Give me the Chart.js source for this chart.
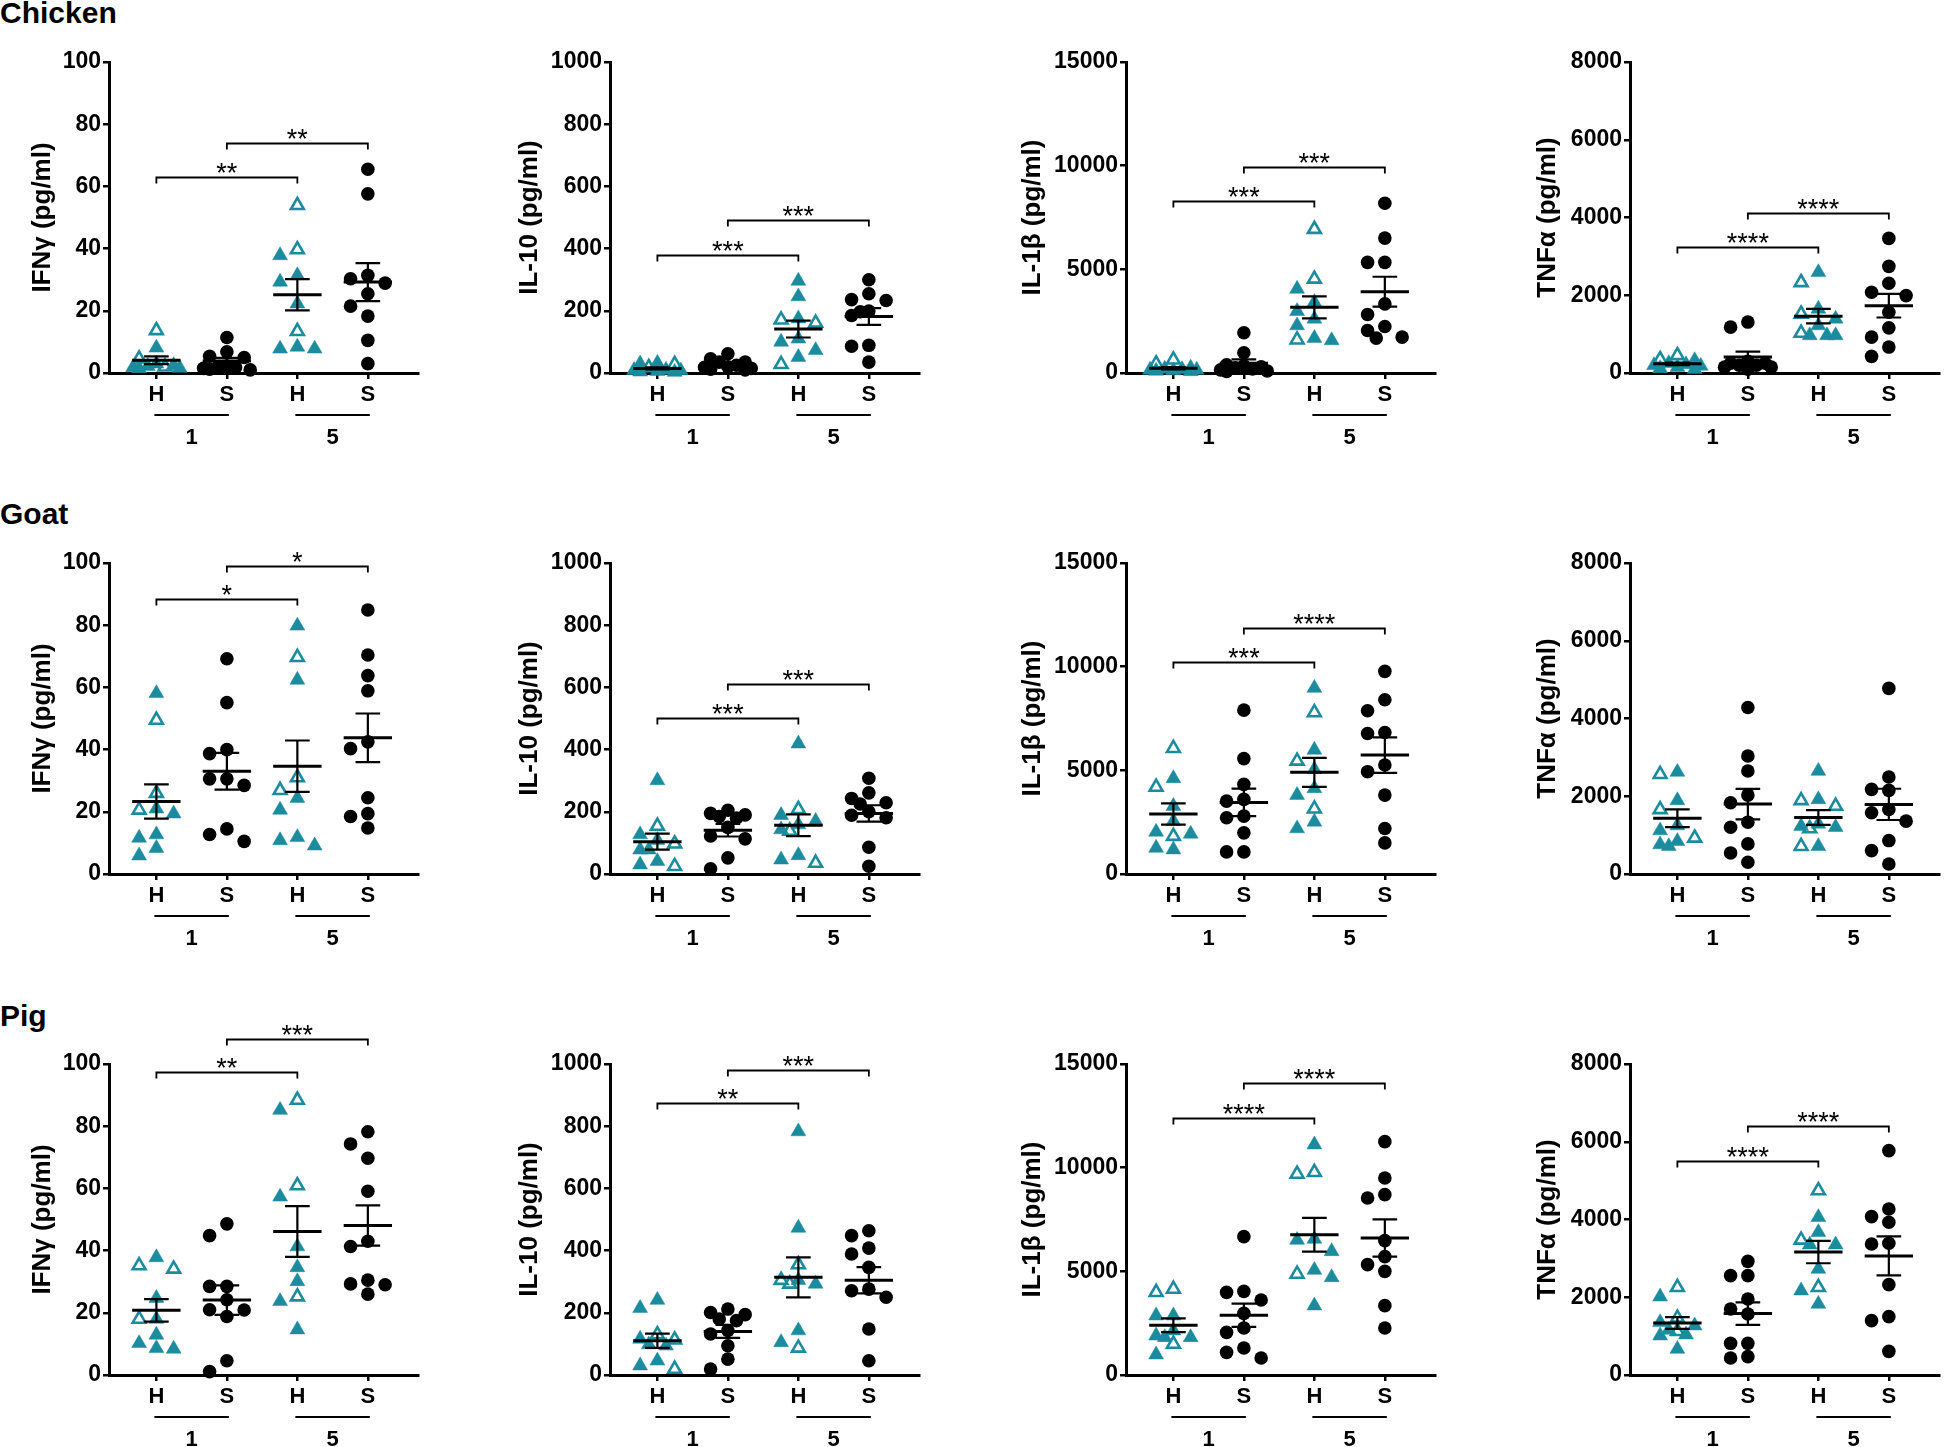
<!DOCTYPE html>
<html><head><meta charset="utf-8">
<script src="https://cdn.jsdelivr.net/npm/chart.js@4.4.1/dist/chart.umd.min.js"></script>
<style>
html,body{margin:0;padding:0;background:#fff;}
body{width:1944px;height:1447px;position:relative;overflow:hidden;}
.rowlab{position:absolute;left:0;font:bold 30px "Liberation Sans",Arial,sans-serif;line-height:30px;color:#000;}
canvas{position:absolute;}
</style></head><body>
<div class="rowlab" style="top:-2px">Chicken</div>
<div class="rowlab" style="top:499px">Goat</div>
<div class="rowlab" style="top:1001px">Pig</div>
<script>
// ---------- labels ----------
const groupLabels = ['H', 'S', 'H', 'S'];
const dayLabels = ['1', '5'];
const rowNames = ['Chicken', 'Goat', 'Pig'];
const cytokineTitles = ['IFNγ (pg/ml)', 'IL-10 (pg/ml)', 'IL-1β (pg/ml)', 'TNFα (pg/ml)'];
const cytokineMax = [100, 1000, 15000, 8000];
const cytokineStep = [20, 200, 5000, 2000];

// ---------- Chicken ----------
const chickenIFNg_H1_filled = [8.1, 1.5, 2.2, 1.8, 2.5, 3.0, 1.6];
const chickenIFNg_H1_open = [13.7, 4.6, 2.0];
const chickenIFNg_S1 = [11.4, 5.4, 5.0, 6.8, 1.8, 1.2, 2.0, 1.5, 1.0, 2.2];
const chickenIFNg_H5_filled = [37.8, 31.4, 29.3, 22.3, 7.8, 8.4, 7.8];
const chickenIFNg_H5_open = [53.9, 39.7, 13.4];
const chickenIFNg_S5 = [65.5, 57.6, 31.4, 28.9, 30.3, 25.5, 21.5, 18.3, 10.5, 3.0];
const chickenIFNg_sig = ['**', '**'];
const chickenIFNg_bracket = [63, 74];

const chickenIL10_H1_filled = [30, 32, 10, 8, 6, 9, 4, 3];
const chickenIL10_H1_open = [18, 28];
const chickenIL10_S1 = [62, 46, 35, 35, 25, 20, 15, 12, 10, 18];
const chickenIL10_H5_filled = [296, 246, 175, 110, 100, 73, 51];
const chickenIL10_H5_open = [171, 161, 28];
const chickenIL10_S5 = [300, 255, 233, 236, 197, 199, 185, 89, 86, 35];
const chickenIL10_sig = ['***', '***'];
const chickenIL10_bracket = [378, 491];

const chickenIL1b_H1_filled = [200, 150, 180, 100, 120, 250, 80, 150];
const chickenIL1b_H1_open = [450, 640];
const chickenIL1b_S1 = [1939, 978, 400, 350, 250, 150, 100, 80, 200, 300];
const chickenIL1b_H5_filled = [4054, 3413, 2981, 2612, 2292, 1571, 1683];
const chickenIL1b_H5_open = [6939, 4535, 1603];
const chickenIL1b_S5 = [8189, 6506, 5337, 5337, 3333, 2821, 2244, 2051, 1683, 1731];
const chickenIL1b_sig = ['***', '***'];
const chickenIL1b_bracket = [8301, 9936];

const chickenTNFa_H1_filled = [325, 250, 200, 150, 180, 120, 220, 100];
const chickenTNFa_H1_open = [453, 350];
const chickenTNFa_S1 = [1310, 1180, 300, 250, 200, 150, 200, 250, 150, 100];
const chickenTNFa_H5_filled = [2590, 1650, 1393, 1222, 966, 966, 966];
const chickenTNFa_H5_open = [2330, 1520, 1026];
const chickenTNFa_S5 = [3462, 2744, 2308, 2077, 1991, 1564, 1162, 923, 667, 427];
const chickenTNFa_sig = ['****', '****'];
const chickenTNFa_bracket = [3231, 4103];

// ---------- Goat ----------
const goatIFNg_H1_filled = [58.1, 21.0, 19.4, 11.6, 12.7, 8.3, 5.9];
const goatIFNg_H1_open = [49.5, 26.0, 20.6];
const goatIFNg_S1 = [69.2, 55.1, 40.0, 38.7, 30.6, 30.6, 28.5, 14.5, 12.7, 10.5];
const goatIFNg_H5_filled = [79.8, 62.4, 24.4, 20.6, 11.8, 10.8, 9.1];
const goatIFNg_H5_open = [69.7, 31.0, 26.9];
const goatIFNg_S5 = [84.9, 70.4, 63.8, 58.9, 42.5, 40.3, 24.5, 19.4, 18.5, 14.8];
const goatIFNg_sig = ['*', '*'];
const goatIFNg_bracket = [88.5, 99.1];

const goatIL10_H1_filled = [301, 127, 109, 78, 78, 41, 30];
const goatIL10_H1_open = [154, 97, 25];
const goatIL10_S1 = [205, 195, 190, 185, 180, 150, 122, 113, 52, 17];
const goatIL10_H5_filled = [419, 189, 170, 159, 143, 60, 46];
const goatIL10_H5_open = [208, 138, 35];
const goatIL10_S5 = [308, 261, 243, 229, 225, 200, 181, 189, 86, 25];
const goatIL10_sig = ['***', '***'];
const goatIL10_bracket = [501, 611];

const goatIL1b_H1_filled = [4613, 3274, 2548, 2032, 1935, 1177, 1258];
const goatIL1b_H1_open = [6065, 4194, 1823];
const goatIL1b_S1 = [7903, 5565, 4323, 3516, 3597, 2710, 2790, 1984, 1065, 1065];
const goatIL1b_H5_filled = [8968, 5984, 5048, 4129, 3806, 2516, 2194];
const goatIL1b_H5_open = [7790, 5452, 3145];
const goatIL1b_S5 = [9774, 8403, 7871, 6823, 6774, 5258, 4935, 3806, 2194, 1500];
const goatIL1b_sig = ['***', '****'];
const goatIL1b_bracket = [10210, 11871];

const goatTNFa_H1_filled = [2624, 1892, 1247, 1118, 843, 714, 757];
const goatTNFa_H1_open = [2563, 1660, 929];
const goatTNFa_S1 = [4284, 3037, 2649, 2030, 1832, 1333, 1204, 774, 542, 301];
const goatTNFa_H5_filled = [2649, 1918, 1204, 1290, 1230, 714];
const goatTNFa_H5_open = [1892, 1746, 1170, 714];
const goatTNFa_S5 = [4774, 2495, 2151, 2176, 1574, 1660, 1359, 860, 602, 258];
const goatTNFa_sig = [];
const goatTNFa_bracket = [];

// ---------- Pig ----------
const pigIFNg_H1_filled = [37.8, 24.7, 18.0, 12.9, 10.2, 8.4, 8.6];
const pigIFNg_H1_open = [35.2, 34.1, 18.0];
const pigIFNg_S1 = [48.6, 44.8, 28.5, 28.5, 24.2, 21.0, 18.8, 20.9, 4.6, 1.1];
const pigIFNg_H5_filled = [85.2, 57.3, 41.3, 34.6, 30.1, 23.7, 14.6];
const pigIFNg_H5_open = [88.4, 60.9, 25.2];
const pigIFNg_S5 = [78.2, 74.3, 69.7, 59.1, 43.0, 41.3, 30.5, 29.3, 29.0, 26.0];
const pigIFNg_sig = ['**', '***'];
const pigIFNg_bracket = [97.3, 108];

const pigIL10_H1_filled = [241, 215, 116, 94, 98, 46, 30];
const pigIL10_H1_open = [130, 113, 19];
const pigIL10_S1 = [212, 201, 194, 175, 180, 143, 132, 94, 51, 19];
const pigIL10_H5_filled = [783, 473, 293, 305, 143, 105];
const pigIL10_H5_open = [355, 293, 305, 87];
const pigIL10_S5 = [464, 448, 408, 389, 346, 276, 271, 250, 148, 46];
const pigIL10_sig = ['**', '***'];
const pigIL10_bracket = [873, 981];

const pigIL1b_H1_filled = [2862, 2862, 2138, 1817, 1897, 1817, 981];
const pigIL1b_H1_open = [4148, 3987, 1495];
const pigIL1b_S1 = [6672, 3987, 4035, 3617, 2974, 2267, 2058, 1302, 1093, 820];
const pigIL1b_H5_filled = [11109, 6559, 6511, 5965, 5064, 4711, 3344];
const pigIL1b_H5_open = [9695, 9775, 4871];
const pigIL1b_S5 = [11254, 9502, 8698, 8537, 6479, 5707, 5322, 5000, 3344, 2267];
const pigIL1b_sig = ['****', '****'];
const pigIL1b_bracket = [12395, 14068];

const pigTNFa_H1_filled = [2015, 1269, 1355, 1038, 1012, 1158, 669];
const pigTNFa_H1_open = [2255, 1467, 1124];
const pigTNFa_S1 = [2924, 2556, 2556, 1955, 1698, 1569, 815, 815, 437, 472];
const pigTNFa_H5_filled = [4057, 3671, 3353, 3353, 2727, 2170, 1827];
const pigTNFa_H5_open = [4743, 3474, 2255];
const pigTNFa_S5 = [5772, 4271, 4074, 3928, 3370, 3388, 2324, 1501, 1398, 609];
const pigTNFa_sig = ['****', '****'];
const pigTNFa_bracket = [5497, 6415];

// ---------- panel table built from the arrays ----------
function P(row, col, f, o1, s1, f5, o5, s5, sig, br) {
  return {row, col, H1f: f, H1o: o1, S1: s1, H5f: f5, H5o: o5, S5: s5, sig, br};
}
const panels = [
  P(0,0,chickenIFNg_H1_filled,chickenIFNg_H1_open,chickenIFNg_S1,chickenIFNg_H5_filled,chickenIFNg_H5_open,chickenIFNg_S5,chickenIFNg_sig,chickenIFNg_bracket),
  P(0,1,chickenIL10_H1_filled,chickenIL10_H1_open,chickenIL10_S1,chickenIL10_H5_filled,chickenIL10_H5_open,chickenIL10_S5,chickenIL10_sig,chickenIL10_bracket),
  P(0,2,chickenIL1b_H1_filled,chickenIL1b_H1_open,chickenIL1b_S1,chickenIL1b_H5_filled,chickenIL1b_H5_open,chickenIL1b_S5,chickenIL1b_sig,chickenIL1b_bracket),
  P(0,3,chickenTNFa_H1_filled,chickenTNFa_H1_open,chickenTNFa_S1,chickenTNFa_H5_filled,chickenTNFa_H5_open,chickenTNFa_S5,chickenTNFa_sig,chickenTNFa_bracket),
  P(1,0,goatIFNg_H1_filled,goatIFNg_H1_open,goatIFNg_S1,goatIFNg_H5_filled,goatIFNg_H5_open,goatIFNg_S5,goatIFNg_sig,goatIFNg_bracket),
  P(1,1,goatIL10_H1_filled,goatIL10_H1_open,goatIL10_S1,goatIL10_H5_filled,goatIL10_H5_open,goatIL10_S5,goatIL10_sig,goatIL10_bracket),
  P(1,2,goatIL1b_H1_filled,goatIL1b_H1_open,goatIL1b_S1,goatIL1b_H5_filled,goatIL1b_H5_open,goatIL1b_S5,goatIL1b_sig,goatIL1b_bracket),
  P(1,3,goatTNFa_H1_filled,goatTNFa_H1_open,goatTNFa_S1,goatTNFa_H5_filled,goatTNFa_H5_open,goatTNFa_S5,goatTNFa_sig,goatTNFa_bracket),
  P(2,0,pigIFNg_H1_filled,pigIFNg_H1_open,pigIFNg_S1,pigIFNg_H5_filled,pigIFNg_H5_open,pigIFNg_S5,pigIFNg_sig,pigIFNg_bracket),
  P(2,1,pigIL10_H1_filled,pigIL10_H1_open,pigIL10_S1,pigIL10_H5_filled,pigIL10_H5_open,pigIL10_S5,pigIL10_sig,pigIL10_bracket),
  P(2,2,pigIL1b_H1_filled,pigIL1b_H1_open,pigIL1b_S1,pigIL1b_H5_filled,pigIL1b_H5_open,pigIL1b_S5,pigIL1b_sig,pigIL1b_bracket),
  P(2,3,pigTNFa_H1_filled,pigTNFa_H1_open,pigTNFa_S1,pigTNFa_H5_filled,pigTNFa_H5_open,pigTNFa_S5,pigTNFa_sig,pigTNFa_bracket)
];

// ---------- layout & style ----------
const FONT = '"Liberation Sans", Arial, Helvetica, sans-serif';
const TEAL = '#1B8B9E';
const AXIS_X = [109, 610, 1126, 1630];
const PLOT_TOP = [62, 563, 1064];
const PLOT_H = 311, PLOT_W = 313;
const YW = 125, TOPPAD = 70, XH = 90, RPAD = 6;
const CAT_PX = 71.4;
const XMIN = -48 / CAT_PX, XMAX = XMIN + PLOT_W / CAT_PX;
const TITLE_OFF = [66.5, 80.5, 93, 82];
const TITLE_SIZE = 26;
const STEP = 17.5 / CAT_PX;    // horizontal spread step of the scatter
const MARK = 13;               // marker size in px for collision test

function swarm(items, center, pxPerUnit) {
  const order = items.map((_, i) => i).sort((a, b) => items[b].v - items[a].v);
  const placed = [];
  order.forEach(i => {
    const y = items[i].v * pxPerUnit;
    const free = [0, -1, 1].find(s => !placed.some(q => q.s === s && Math.abs(q.y - y) < MARK));
    let slot = free;
    if (slot === undefined) {
      let best = -1;
      [0, -1, 1, -0.5, 0.5, -1.35, 1.35].forEach(s => {
        const d = Math.min(...placed.filter(q => q.s === s).map(q => Math.abs(q.y - y)), 1e9);
        if (d > best) { best = d; slot = s; }
      });
    }
    placed.push({s: slot, y});
    items[i].x = center + slot * STEP;
  });
  return items;
}

function meanSem(a) {
  const n = a.length, m = a.reduce((s, v) => s + v, 0) / n;
  const sd = Math.sqrt(a.reduce((s, v) => s + (v - m) * (v - m), 0) / (n - 1));
  return [m, sd / Math.sqrt(n)];
}

const annotPlugin = {
  id: 'annot',
  afterDatasetsDraw(chart, args, opts) {
    const p = opts.panel, ctx = chart.ctx;
    const xs = chart.scales.x, ys = chart.scales.y, ca = chart.chartArea;
    const groups = [p.H1f.concat(p.H1o), p.S1, p.H5f.concat(p.H5o), p.S5];
    ctx.save();
    ctx.strokeStyle = '#000';
    ctx.lineCap = 'butt';
    groups.forEach((g, i) => {
      const [m, se] = meanSem(g);
      const cx = xs.getPixelForValue(i);
      const w = xs.getPixelForValue(i + 0.343) - cx, c = xs.getPixelForValue(i + 0.175) - cx;
      const ym = ys.getPixelForValue(m), yt = ys.getPixelForValue(m + se), yb = ys.getPixelForValue(m - se);
      ctx.lineWidth = 3;
      ctx.beginPath(); ctx.moveTo(cx - w, ym); ctx.lineTo(cx + w, ym); ctx.stroke();
      ctx.lineWidth = 2.2;
      ctx.beginPath();
      ctx.moveTo(cx, yt); ctx.lineTo(cx, yb);
      ctx.moveTo(cx - c, yt); ctx.lineTo(cx + c, yt);
      ctx.moveTo(cx - c, yb); ctx.lineTo(cx + c, yb);
      ctx.stroke();
    });
    // significance brackets: H1 vs H5, S1 vs S5
    p.sig.forEach((lab, k) => {
      const x1 = xs.getPixelForValue(k), x2 = xs.getPixelForValue(k + 2);
      const y = Math.round(ys.getPixelForValue(p.br[k])) + 0.5;
      ctx.lineWidth = 1.8;
      ctx.beginPath();
      ctx.moveTo(x1, y + 6); ctx.lineTo(x1, y); ctx.lineTo(x2, y); ctx.lineTo(x2, y + 6);
      ctx.stroke();
      ctx.fillStyle = '#000';
      ctx.font = '27px ' + FONT;
      ctx.textAlign = 'center';
      ctx.textBaseline = 'alphabetic';
      ctx.fillText(lab, (x1 + x2) / 2, y + 4);
    });
    // day grouping lines & labels
    ctx.lineWidth = 2;
    ctx.fillStyle = '#000';
    ctx.font = 'bold 22px ' + FONT;
    ctx.textAlign = 'center';
    ctx.textBaseline = 'middle';
    dayLabels.forEach((d, k) => {
      const x1 = xs.getPixelForValue(2 * k), x2 = xs.getPixelForValue(2 * k + 1);
      const y = ca.bottom + 42;
      ctx.beginPath(); ctx.moveTo(x1 - 2, y); ctx.lineTo(x2 + 2, y); ctx.stroke();
      ctx.fillText(d, (x1 + x2) / 2, ca.bottom + 65);
    });
    ctx.restore();
  }
};

panels.forEach(p => {
  const ymax = cytokineMax[p.col];
  const ppu = PLOT_H / ymax;
  const tri = [], open = [], circ = [];
  [[p.H1f, p.H1o, 0], [p.H5f, p.H5o, 2]].forEach(([f, o, c]) => {
    const items = f.map(v => ({v, open: false})).concat(o.map(v => ({v, open: true})));
    swarm(items, c, ppu).forEach(it => (it.open ? open : tri).push({x: it.x, y: it.v}));
  });
  [[p.S1, 1], [p.S5, 3]].forEach(([s, c]) => {
    swarm(s.map(v => ({v})), c, ppu).forEach(it => circ.push({x: it.x, y: it.v}));
  });

  const cv = document.createElement('canvas');
  const W = YW + PLOT_W + RPAD, H = TOPPAD + PLOT_H + XH;
  cv.width = W; cv.height = H;
  cv.style.width = W + 'px'; cv.style.height = H + 'px';
  cv.style.left = (AXIS_X[p.col] - YW) + 'px';
  cv.style.top = (PLOT_TOP[p.row] - TOPPAD) + 'px';
  document.body.appendChild(cv);

  const axisGrid = {drawOnChartArea: false, drawTicks: true, tickLength: 6, color: '#000', lineWidth: 2.5};
  new Chart(cv, {
    type: 'scatter',
    data: {datasets: [
      {data: circ, pointStyle: 'circle', pointRadius: 6.8, pointBackgroundColor: '#000', pointBorderColor: '#000', pointBorderWidth: 0, clip: false},
      {data: tri, pointStyle: 'triangle', pointRadius: 8.6, pointBackgroundColor: TEAL, pointBorderColor: TEAL, pointBorderWidth: 0.5, clip: false},
      {data: open, pointStyle: 'triangle', pointRadius: 7.4, pointBackgroundColor: '#fff', pointBorderColor: TEAL, pointBorderWidth: 2.6, clip: false}
    ]},
    options: {
      responsive: false, animation: false, devicePixelRatio: 1,
      layout: {padding: {top: TOPPAD, right: RPAD, left: 0, bottom: 0}},
      plugins: {legend: {display: false}, tooltip: {enabled: false}, annot: {panel: p}},
      elements: {point: {hoverRadius: 0}},
      scales: {
        x: {
          type: 'linear', min: XMIN, max: XMAX,
          afterBuildTicks: s => { s.ticks = groupLabels.map((_, i) => ({value: i})); },
          afterFit: s => { s.height = XH; },
          ticks: {callback: v => groupLabels[v], font: {family: FONT, size: 22, weight: 'bold'}, color: '#000', padding: 3, maxRotation: 0, autoSkip: false},
          grid: axisGrid,
          border: {display: true, color: '#000', width: 3}
        },
        y: {
          min: 0, max: ymax,
          afterFit: s => { s.width = YW; },
          ticks: {stepSize: cytokineStep[p.col], callback: v => String(v), font: {family: FONT, size: 23, weight: 'bold'}, color: '#000', padding: 2},
          title: {display: true, text: cytokineTitles[p.col], color: '#000',
                  font: {family: FONT, size: TITLE_SIZE, weight: 'bold', lineHeight: 1.2},
                  padding: {top: YW - TITLE_OFF[p.col] - TITLE_SIZE * 0.6, bottom: 0}},
          grid: axisGrid,
          border: {display: true, color: '#000', width: 3}
        }
      }
    },
    plugins: [annotPlugin]
  });
});
</script>
</body></html>
